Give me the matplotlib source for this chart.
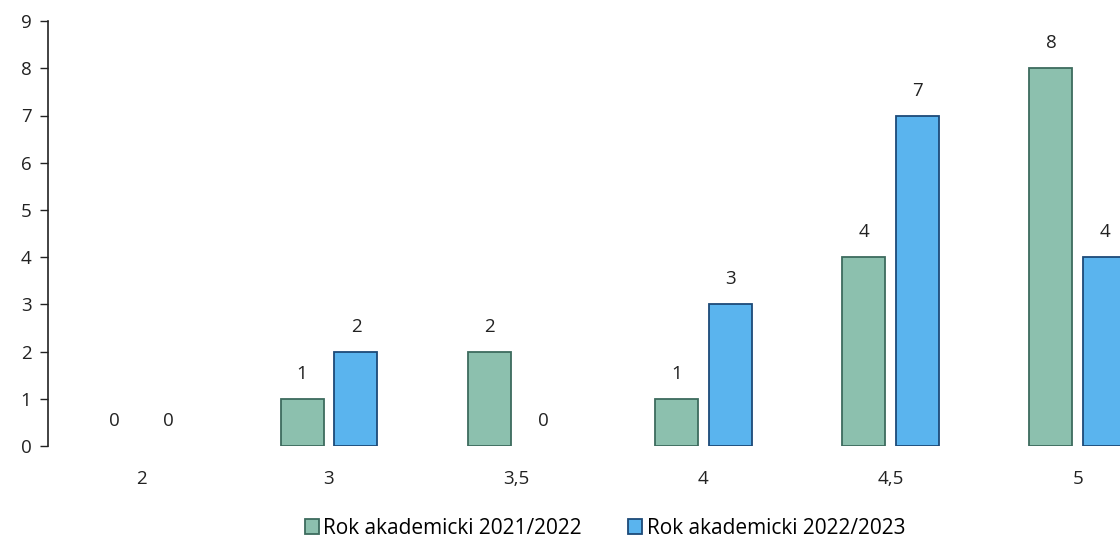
import matplotlib.pyplot as plt
import matplotlib.patches as mpatches
import numpy as np

categories = ['2', '3', '3,5', '4', '4,5', '5']
rok_2021 = [0, 1, 2, 1, 4, 8]
rok_2022 = [0, 2, 0, 3, 7, 4]
labels = ['Rok akademicki 2021/2022', 'Rok akademicki 2022/2023']
fills = ['#8cc0ae', '#5ab4ee']
edges = ['#3d6b5e', '#1d4a78']

plt.rcParams['font.family'] = ['Open Sans', 'DejaVu Sans']

fig = plt.figure(figsize=(11.2, 5.4), dpi=100)
ax = fig.add_axes([0.043, 0.174, 0.957, 0.787])

x = np.arange(len(categories))
w = 0.23
off = 0.144
b1 = ax.bar(x - off, rok_2021, w, color=fills[0], edgecolor=edges[0], linewidth=1.3)
b2 = ax.bar(x + off, rok_2022, w, color=fills[1], edgecolor=edges[1], linewidth=1.3)

# etykiety wartosci nad slupkami
for bars in (b1, b2):
    for r in bars:
        if r.get_height() == 0:
            r.set_linewidth(0)
        ax.annotate(str(int(r.get_height())), (r.get_x() + r.get_width() / 2, r.get_height()),
                    xytext=(0, 18), textcoords='offset points', ha='center', va='center',
                    fontsize=13.5, color='#222222')

ax.set_xlim(-0.5, 5.225)
ax.set_ylim(0, 9)
ax.set_yticks(range(0, 10))
ax.set_xticks(x)
ax.set_xticklabels(categories)
ax.tick_params(axis='y', length=6, width=1, labelsize=13.5, pad=6, colors='#222222')
ax.tick_params(axis='x', length=0, labelsize=13.5, pad=17, colors='#222222')
for s in ['top', 'right', 'bottom']:
    ax.spines[s].set_visible(False)
ax.spines['left'].set_color('#222222')
ax.spines['left'].set_linewidth(1.2)

handles = [mpatches.Patch(facecolor=f, edgecolor=e, linewidth=1.3, label=l)
           for f, e, l in zip(fills, edges, labels)]
fig.legend(handles=handles, loc='center', bbox_to_anchor=(0.54, 0.022), ncol=2, frameon=False,
           fontsize=15, handlelength=0.7, handleheight=0.7, handletextpad=0.2, columnspacing=2.2)

plt.savefig('out.png', dpi=100)
